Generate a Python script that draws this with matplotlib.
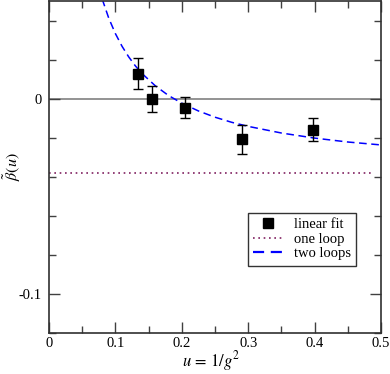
import matplotlib
matplotlib.use("Agg")
import matplotlib.pyplot as plt
from matplotlib.lines import Line2D
from matplotlib.ticker import MultipleLocator

plt.rcParams['font.family'] = ['Liberation Serif', 'DejaVu Serif']
plt.rcParams['mathtext.fontset'] = 'stix'

# linear fit points with errors
u_fit = [0.1345, 0.1556, 0.2048, 0.290, 0.397]
beta_fit = [0.0127, 0.0, -0.0046, -0.0208, -0.0159]
beta_err = [0.0080, 0.0067, 0.0054, 0.0074, 0.0060]

# one loop value
one_loop = -0.038

# two loops curve
u_two = [0.08, 0.09, 0.10, 0.11, 0.12, 0.13, 0.14, 0.16, 0.18, 0.20, 0.225,
         0.25, 0.275, 0.30, 0.35, 0.40, 0.45, 0.50]
beta_two = [0.0511, 0.0412, 0.0333, 0.0268, 0.0214, 0.0168, 0.0129, 0.0066,
            0.0016, -0.0023, -0.0063, -0.0095, -0.0121, -0.0142, -0.0176,
            -0.0202, -0.0222, -0.0237]

fig = plt.figure(figsize=(3.9, 3.74), dpi=100)
ax = fig.add_axes([49 / 390, 41 / 374, 332 / 390, 332 / 374])

ax.axhline(0, color='#808080', lw=1.2, zorder=1)
ax.errorbar(u_fit, beta_fit, yerr=beta_err, fmt='s', color='black', ms=7.5,
            ecolor='black', elinewidth=1, capsize=3.5, capthick=1, zorder=3)
ax.plot([0, 0.49], [one_loop, one_loop], ls=(0, (1, 2.2)), color='#802060',
        lw=1.2)
ax.plot(u_two, beta_two, ls=(0, (5, 3)), color='#0000ff', lw=1.1)

ax.set_xlim(0, 0.5)
ax.set_ylim(-0.12, 0.05)
ax.xaxis.set_minor_locator(MultipleLocator(0.05))
ax.yaxis.set_minor_locator(MultipleLocator(0.02))
ax.set_xticks([0, 0.1, 0.2, 0.3, 0.4, 0.5])
ax.set_xticklabels(['0', '0.1', '0.2', '0.3', '0.4', '0.5'])
ax.set_yticks([-0.1, 0])
ax.set_yticklabels(['-0.1', '0'])
ax.tick_params(which='both', direction='in', top=True, right=True,
               labelsize=10.5, color='#404040')
ax.tick_params(which='major', length=8, width=1)
ax.tick_params(which='minor', length=5, width=1)
ax.tick_params(axis='x', pad=3)
ax.tick_params(axis='y', pad=5)
for s in ax.spines.values():
    s.set_linewidth(1.2)
    s.set_color('#303030')

fig.text(211 / 390, 8 / 374, r'$u\,=\,1/g^2$', fontsize=12,
         ha='center', va='baseline')
ax.set_ylabel(r'$\tilde{\beta}(u)$', fontsize=11.5)
ax.yaxis.set_label_coords(-0.078, 0.5)

handles = [
    Line2D([], [], ls='none', marker='s', color='black', ms=7.5),
    Line2D([], [], ls=(0, (1, 2.2)), color='#802060', lw=1.2),
    Line2D([], [], ls=(0, (5, 3)), color='#0000ff', lw=1.6),
]
labels = ['linear fit', 'one loop', 'two loops']
leg = ax.legend(handles, labels, loc='upper left',
                bbox_to_anchor=(0.6, 0.362), fontsize=10.5,
                frameon=True, fancybox=False, edgecolor='black',
                handlelength=2.0, handletextpad=0.8, borderpad=0.35,
                labelspacing=0.1, borderaxespad=0)
leg.get_frame().set_linewidth(1)

plt.savefig("out.png", dpi=100)
